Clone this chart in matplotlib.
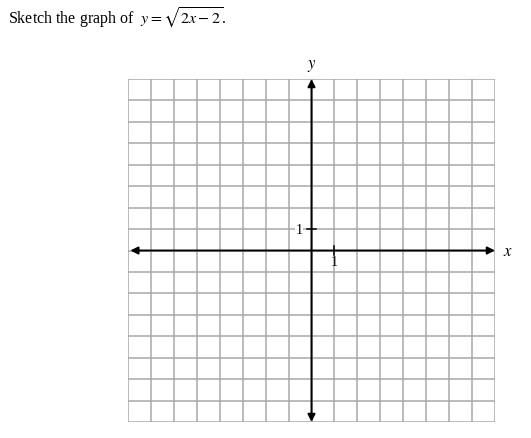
import matplotlib.pyplot as plt
import numpy as np

# worksheet grid: x and y from -8 to 8, one unit per cell
x_range = [-8, 8]
y_range = [-8, 8]
tick_x = [1]
tick_y = [1]
tick_labels = ["1"]

plt.rcParams['font.family'] = ['Liberation Serif', 'DejaVu Serif']
plt.rcParams['mathtext.fontset'] = 'stix'

fig = plt.figure(figsize=(5.31, 4.39), dpi=100)
fig.text(8 / 531, 1 - 18 / 439, r"Sketch the graph of  $y = \sqrt{2x - 2}$.",
         fontsize=11.5, va='center', ha='left')

ax = fig.add_axes([128 / 531, 16 / 439, 367 / 531, 343 / 439])
ax.set_xlim(*x_range)
ax.set_ylim(*y_range)

# grid lines
for gx in np.arange(x_range[0], x_range[1] + 1):
    ax.axvline(gx, color='#a8a8a8', lw=1.1, zorder=1)
for gy in np.arange(y_range[0], y_range[1] + 1):
    ax.axhline(gy, color='#a8a8a8', lw=1.1, zorder=1)

for s in ax.spines.values():
    s.set_visible(False)
ax.set_xticks([])
ax.set_yticks([])

# axes with arrows at both ends
arrow = dict(arrowstyle='<|-|>', color='black', lw=1.4, mutation_scale=11,
             shrinkA=0, shrinkB=0)
ax.annotate('', xy=(x_range[1], 0), xytext=(x_range[0] + 0.1, 0),
            arrowprops=arrow, zorder=3)
ax.annotate('', xy=(0, y_range[1]), xytext=(0, y_range[0]),
            arrowprops=arrow, zorder=3)

# unit tick marks and labels
for tx, lab in zip(tick_x, tick_labels):
    ax.plot([tx, tx], [-0.2, 0.2], color='black', lw=1.1, zorder=3)
    ax.text(tx, -0.5, lab, ha='center', va='center', fontsize=10,
            zorder=4)
for ty, lab in zip(tick_y, tick_labels):
    ax.plot([-0.2, 0.2], [ty, ty], color='black', lw=1.1, zorder=3)
    ax.text(-0.55, ty, lab, ha='center', va='center', fontsize=10,
            bbox=dict(facecolor='white', edgecolor='none', pad=0.5), zorder=4)

ax.text(0, y_range[1] + 0.3, r'$y$', ha='center', va='bottom', fontsize=12,
        clip_on=False)
ax.text(x_range[1] + 0.35, 0, r'$x$', ha='left', va='center', fontsize=12,
        clip_on=False)

fig.savefig('out.png', dpi=100)
